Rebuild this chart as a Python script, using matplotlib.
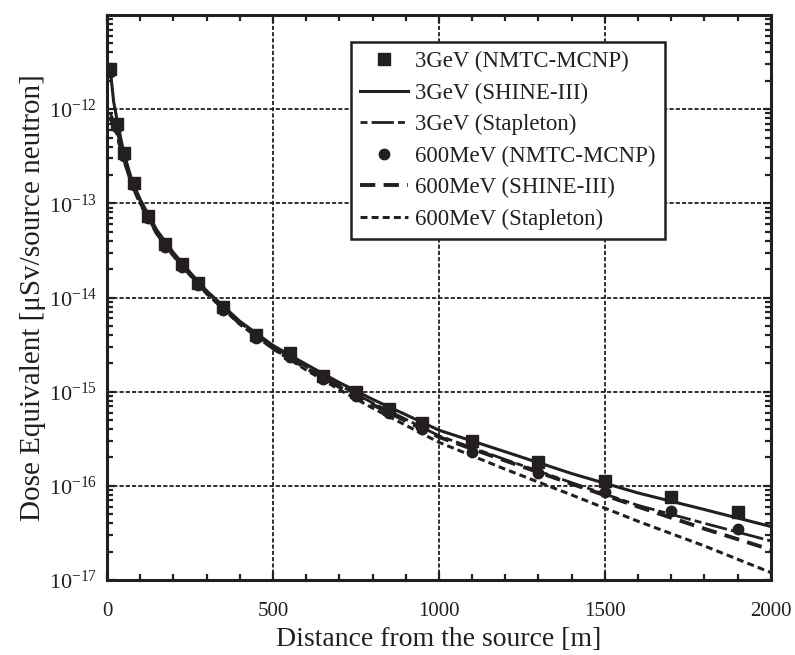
#!/usr/bin/env python3
"""Dose equivalent vs distance from the source (3 GeV / 600 MeV)."""

import matplotlib
matplotlib.use("Agg")
import matplotlib.pyplot as plt
from matplotlib.ticker import MultipleLocator, LogLocator, NullFormatter

# --- data ------------------------------------------------------------------
# NMTC-MCNP points
d_pts = [10, 30, 50, 80, 125, 175, 225, 275, 350, 450, 550, 650, 750, 850,
         950, 1100, 1300, 1500, 1700, 1900]
gev3_mcnp = [2.7e-12, 6.9e-13, 3.4e-13, 1.65e-13, 7.4e-14, 3.7e-14, 2.25e-14,
             1.42e-14, 7.9e-15, 4.0e-15, 2.55e-15, 1.48e-15, 1.0e-15, 6.6e-16,
             4.7e-16, 3.0e-16, 1.8e-16, 1.12e-16, 7.6e-17, 5.25e-17]
mev600_mcnp = [2.5e-12, 6.5e-13, 3.2e-13, 1.55e-13, 7.0e-14, 3.4e-14, 2.1e-14,
               1.35e-14, 7.4e-15, 3.7e-15, 2.35e-15, 1.35e-15, 9.0e-16, 5.9e-16,
               4.0e-16, 2.3e-16, 1.38e-16, 8.5e-17, 5.4e-17, 3.5e-17]

# calculated curves
d_line = [10, 20, 30, 50, 75, 100, 150, 200, 250, 300, 400, 500, 600, 700,
          800, 900, 1000, 1200, 1400, 1600, 1800, 2000]
gev3_shine = [2.6e-12, 1.2e-12, 7.8e-13, 3.5e-13, 1.75e-13, 1.1e-13, 5.2e-14,
              3.0e-14, 1.85e-14, 1.18e-14, 5.6e-15, 3.1e-15, 1.95e-15, 1.25e-15,
              8.3e-16, 5.7e-16, 3.9e-16, 2.3e-16, 1.35e-16, 8.4e-17, 5.6e-17,
              3.7e-17]
gev3_stap = [9.0e-13, 7.5e-13, 5.8e-13, 3.2e-13, 1.7e-13, 1.05e-13, 5.0e-14,
             2.9e-14, 1.8e-14, 1.15e-14, 5.4e-15, 3.0e-15, 1.85e-15, 1.17e-15,
             7.6e-16, 5.1e-16, 3.4e-16, 1.9e-16, 1.08e-16, 6.2e-17, 4.0e-17,
             2.6e-17]
mev600_shine = [8.0e-13, 6.8e-13, 5.4e-13, 3.0e-13, 1.62e-13, 1.0e-13, 4.8e-14,
                2.8e-14, 1.75e-14, 1.12e-14, 5.3e-15, 2.9e-15, 1.78e-15, 1.12e-15,
                7.3e-16, 4.9e-16, 3.3e-16, 1.85e-16, 1.05e-16, 6.0e-17, 3.5e-17,
                2.1e-17]
mev600_stap = [8.0e-13, 6.8e-13, 5.4e-13, 3.0e-13, 1.6e-13, 1.0e-13, 4.8e-14,
               2.8e-14, 1.75e-14, 1.1e-14, 5.2e-15, 2.85e-15, 1.7e-15, 1.05e-15,
               6.7e-16, 4.4e-16, 2.9e-16, 1.5e-16, 8.0e-17, 4.2e-17, 2.3e-17,
               1.2e-17]

labels = ["3GeV (NMTC-MCNP)", "3GeV (SHINE-III)", "3GeV (Stapleton)",
          "600MeV (NMTC-MCNP)", "600MeV (SHINE-III)", "600MeV (Stapleton)"]


def main() -> None:
    plt.rcParams["font.family"] = ["Liberation Serif", "DejaVu Serif"]
    plt.rcParams["mathtext.fontset"] = "custom"
    plt.rcParams["mathtext.rm"] = "Liberation Serif"
    plt.rcParams["lines.scale_dashes"] = False

    fig = plt.figure(figsize=(7.95, 6.55), dpi=100)
    ax = fig.add_axes([0.1346, 0.1145, 0.835, 0.8626])
    k = "#231f20"

    ax.plot(d_pts, gev3_mcnp, "s", color=k, ms=9, label=labels[0], zorder=5)
    ax.plot(d_line, gev3_shine, "-", color=k, lw=2.2, label=labels[1], zorder=4)
    ax.plot(d_line, gev3_stap, color=k, lw=2.0, dashes=(5, 3, 16, 3),
            label=labels[2], zorder=4)
    ax.plot(d_pts, mev600_mcnp, "o", color=k, ms=7.5, label=labels[3], zorder=5)
    ax.plot(d_line, mev600_shine, color=k, lw=2.8, dashes=(11, 6),
            label=labels[4], zorder=4)
    ax.plot(d_line, mev600_stap, color=k, lw=2.2, dashes=(5, 3),
            label=labels[5], zorder=4)

    ax.set_yscale("log")
    ax.set_xlim(0, 2000)
    ax.set_ylim(1e-17, 1e-11)
    ax.xaxis.set_major_locator(MultipleLocator(500))
    ax.xaxis.set_minor_locator(MultipleLocator(100))
    ax.yaxis.set_minor_locator(LogLocator(base=10, subs=range(2, 10), numticks=20))
    ax.yaxis.set_minor_formatter(NullFormatter())
    ax.set_yticks([1e-17, 1e-16, 1e-15, 1e-14, 1e-13, 1e-12])

    ax.grid(True, which="major", color=k, lw=1.3, linestyle=(0, (3, 1.5)))
    ax.tick_params(which="both", direction="in", top=True, right=True,
                   color=k, width=1.6, labelsize=15, colors=k)
    ax.tick_params(which="major", length=6)
    ax.tick_params(which="minor", length=4)
    ax.tick_params(axis="x", pad=16)
    ax.tick_params(axis="y", pad=7, labelsize=16)
    for s in ax.spines.values():
        s.set_linewidth(2.2)
        s.set_color(k)

    ax.set_xlabel("Distance from the source [m]", fontsize=20, color=k,
                  labelpad=4)
    ax.set_ylabel("Dose Equivalent [\u03bcSv/source neutron]", fontsize=21,
                  color=k, labelpad=2)

    leg = ax.legend(loc="upper right", bbox_to_anchor=(0.840, 0.952),
                    borderaxespad=0, fontsize=16.5, handlelength=2.1,
                    handletextpad=0.3, labelspacing=0.45, fancybox=False,
                    framealpha=1, edgecolor=k, borderpad=0.4)
    leg.get_frame().set_linewidth(1.8)
    for t in leg.get_texts():
        t.set_color(k)

    fig.savefig("out.png", dpi=100)
    plt.close(fig)


if __name__ == "__main__":
    main()
